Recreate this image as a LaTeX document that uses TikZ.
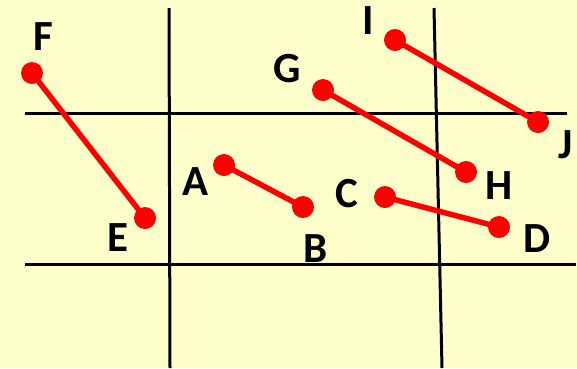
\documentclass[tikz,border=0pt]{standalone}
\usepackage{fontspec}
\setmainfont{Carlito}
\definecolor{bgyellow}{HTML}{FFFFCC}
\definecolor{dotred}{HTML}{FF0000}
\begin{document}
\begin{tikzpicture}[x=1pt,y=-1pt,
  grid/.style={black,line width=3pt},
  seg/.style={dotred,line width=5.5pt},
  dot/.style={circle,fill=dotred,minimum size=22pt,inner sep=0pt},
  lbl/.style={font=\bfseries\fontsize{43}{43}\selectfont,inner sep=0pt}]
\fill[bgyellow] (0,0) rectangle (577,368);
\useasboundingbox (0,0) rectangle (577,368);
% grid lines
\coordinate (h1a) at (25,113); \coordinate (h1b) at (567,113);
\coordinate (h2a) at (25,264); \coordinate (h2b) at (576,264);
\coordinate (v1a) at (169,8); \coordinate (v1b) at (170,368);
\coordinate (v2a) at (434,8); \coordinate (v2b) at (442,368);
\draw[grid] (h1a) -- (h1b);
\draw[grid] (h2a) -- (h2b);
\draw[grid] (v1a) -- (v1b);
\draw[grid] (v2a) -- (v2b);
% dots
\node[dot] (F) at (32,73) {};
\node[dot] (E) at (145,218) {};
\node[dot] (A) at (224,165) {};
\node[dot] (B) at (303,207) {};
\node[dot] (C) at (385,197) {};
\node[dot] (D) at (499,227) {};
\node[dot] (G) at (323,90) {};
\node[dot] (H) at (466,172) {};
\node[dot] (I) at (395,40) {};
\node[dot] (J) at (538,122) {};
% segments
\draw[seg] (F.center) -- (E.center);
\draw[seg] (A.center) -- (B.center);
\draw[seg] (C.center) -- (D.center);
\draw[seg] (G.center) -- (H.center);
\draw[seg] (I.center) -- (J.center);
% labels
\node[lbl] (lF) at (43,37) {F};
\node[lbl] (lE) at (118,238) {E};
\node[lbl] (lA) at (196,182) {A};
\node[lbl] (lB) at (316,249) {B};
\node[lbl] (lC) at (347,194) {C};
\node[lbl] (lD) at (537,239) {D};
\node[lbl] (lG) at (287,69) {G};
\node[lbl] (lH) at (499,186) {H};
\node[lbl] (lI) at (368,21) {I};
\node[lbl] (lJ) at (566,145) {J};
\end{tikzpicture}
\end{document}
